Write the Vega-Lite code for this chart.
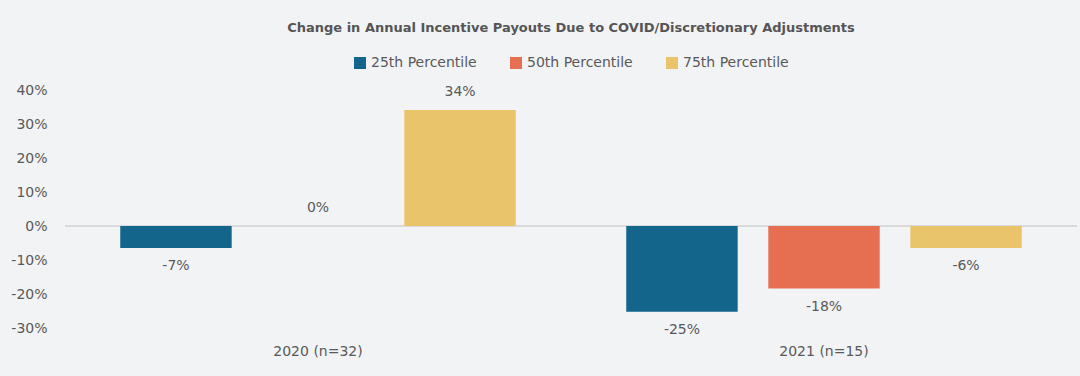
{
  "$schema": "https://vega.github.io/schema/vega-lite/v6.json",
  "width": 1012,
  "height": 238,
  "padding": {"left": 10, "top": 22, "right": 3, "bottom": 18},
  "background": "#f2f3f5",
  "config": {
    "view": {"stroke": null},
    "font": "DejaVu Sans",
    "axis": {"labelFont": "DejaVu Sans", "labelColor": "#595959", "labelFontSize": 14, "labelOverlap": false},
    "legend": {"layout": {"top": {"anchor": "middle"}}}
  },
  "title": {
    "text": "Change in Annual Incentive Payouts Due to COVID/Discretionary Adjustments",
    "fontSize": 13,
    "fontWeight": "bold",
    "color": "#555555",
    "font": "DejaVu Sans",
    "anchor": "middle",
    "offset": 21
  },
  "data": {
    "values": [
      {"group": "2020 (n=32)", "series": "25th Percentile", "value": -0.065, "label": "-7%"},
      {"group": "2020 (n=32)", "series": "50th Percentile", "value": 0, "label": "0%"},
      {"group": "2020 (n=32)", "series": "75th Percentile", "value": 0.341, "label": "34%"},
      {"group": "2021 (n=15)", "series": "25th Percentile", "value": -0.252, "label": "-25%"},
      {"group": "2021 (n=15)", "series": "50th Percentile", "value": -0.184, "label": "-18%"},
      {"group": "2021 (n=15)", "series": "75th Percentile", "value": -0.065, "label": "-6%"}
    ]
  },
  "encoding": {
    "x": {
      "field": "group",
      "type": "nominal",
      "scale": {"paddingInner": 0, "paddingOuter": 0},
      "axis": {"title": null, "labelAngle": 0, "ticks": false, "domain": false, "labelPadding": 16}
    },
    "xOffset": {
      "field": "series",
      "type": "nominal",
      "scale": {"paddingInner": 0.2155, "paddingOuter": 0.389}
    },
    "y": {
      "field": "value",
      "type": "quantitative",
      "scale": {"domain": [-0.3, 0.4]},
      "axis": {
        "title": null,
        "values": [-0.3, -0.2, -0.1, 0, 0.1, 0.2, 0.3, 0.4],
        "labelExpr": "(datum.value < 0 ? '-' : '') + format(abs(datum.value), '.0%')",
        "labelOverlap": false,
        "grid": false,
        "domain": false,
        "ticks": false,
        "labelPadding": 18
      }
    }
  },
  "layer": [
    {
      "mark": {"type": "rule", "color": "#d9d9d9", "strokeWidth": 1},
      "encoding": {"y": {"datum": 0}, "x": null, "xOffset": null}
    },
    {
      "mark": {"type": "bar"},
      "encoding": {
        "color": {
          "field": "series",
          "type": "nominal",
          "scale": {"domain": ["25th Percentile", "50th Percentile", "75th Percentile"], "range": ["#13658c", "#e76f51", "#e9c46a"]},
          "legend": {
            "title": null,
            "orient": "top",
            "direction": "horizontal",
            "symbolType": "square",
            "symbolSize": 144,
            "symbolStrokeWidth": 0,
            "labelFontSize": 14,
            "labelColor": "#595959",
            "labelFont": "DejaVu Sans",
            "labelOffset": 4,
            "columnPadding": 32,
            "offset": 20
          }
        }
      }
    },
    {
      "transform": [{"filter": "datum.value >= 0"}],
      "mark": {"type": "text", "baseline": "middle", "dy": -18, "fontSize": 14, "color": "#595959"},
      "encoding": {
        "text": {"field": "label"}
      }
    },
    {
      "transform": [{"filter": "datum.value < 0"}],
      "mark": {"type": "text", "baseline": "middle", "dy": 18, "fontSize": 14, "color": "#595959"},
      "encoding": {
        "text": {"field": "label"}
      }
    }
  ]
}
